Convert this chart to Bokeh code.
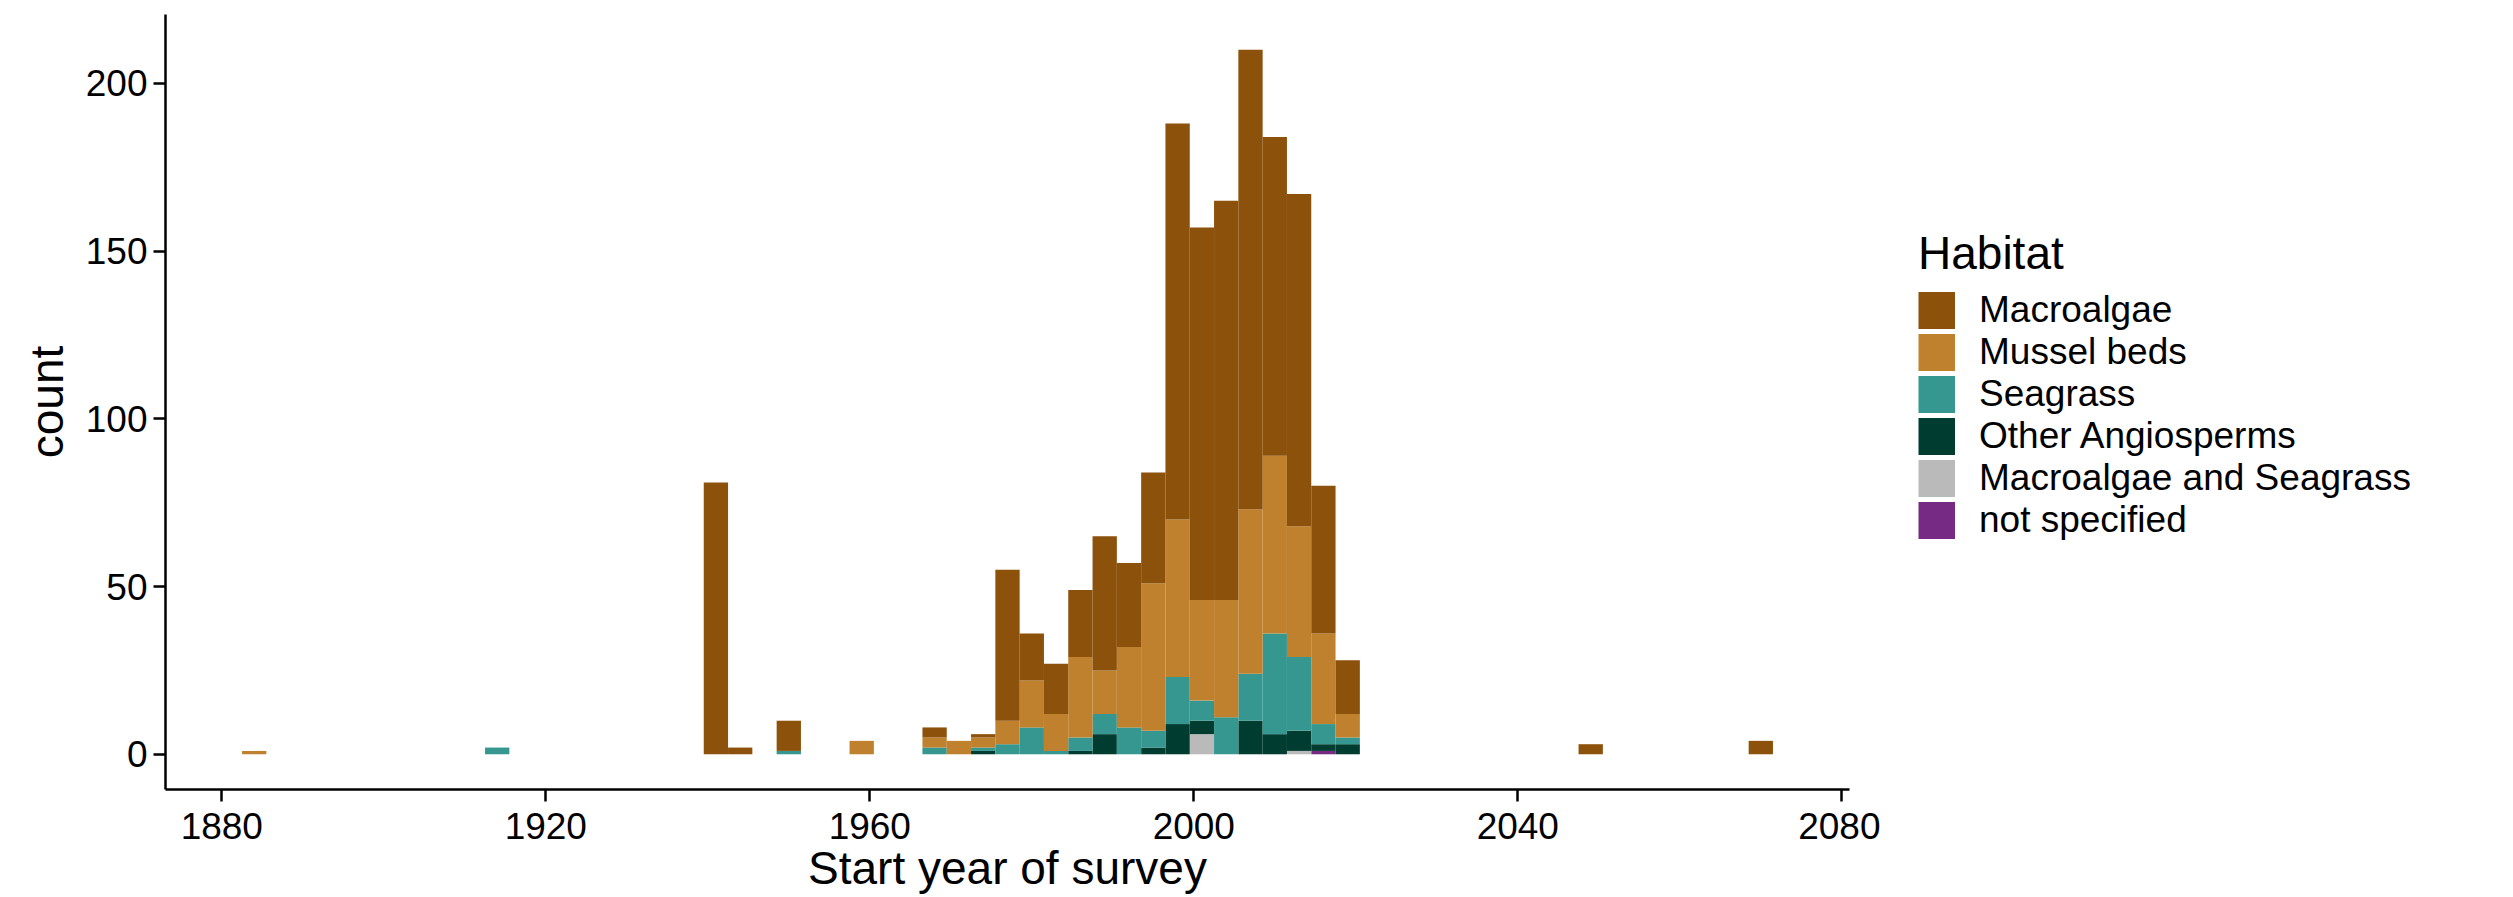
from bokeh.plotting import figure
from bokeh.models import Range1d, FixedTicker, Legend, LegendItem, ColumnDataSource
from bokeh.layouts import row
from bokeh.embed import file_html
from bokeh.resources import INLINE

# Histogram bins (centre year, bin width 3 years) and counts per habitat
bin_centers = [1884, 1914, 1941, 1944, 1950, 1959, 1968, 1971, 1974, 1977, 1980, 1983, 1986,
               1989, 1992, 1995, 1998, 2001, 2004, 2007, 2010, 2013, 2016, 2019, 2049, 2070]
bin_width = 3
macroalgae = [0, 0, 81, 2, 9, 0, 3, 0, 1, 45, 14, 15, 20, 40, 25, 33, 118, 111, 119, 137, 95, 99, 44, 16, 3, 4]
mussel_beds = [1, 0, 0, 0, 0, 4, 3, 4, 3, 7, 14, 11, 24, 13, 24, 44, 47, 30, 35, 49, 53, 39, 27, 7, 0, 0]
seagrass = [0, 2, 0, 0, 1, 0, 2, 0, 1, 3, 8, 1, 4, 6, 8, 5, 14, 6, 11, 14, 30, 22, 6, 2, 0, 0]
other_angiosperms = [0, 0, 0, 0, 0, 0, 0, 0, 1, 0, 0, 0, 1, 6, 0, 2, 9, 4, 0, 10, 6, 6, 2, 3, 0, 0]
macroalgae_and_seagrass = [0, 0, 0, 0, 0, 0, 0, 0, 0, 0, 0, 0, 0, 0, 0, 0, 0, 6, 0, 0, 0, 1, 0, 0, 0, 0]
not_specified = [0, 0, 0, 0, 0, 0, 0, 0, 0, 0, 0, 0, 0, 0, 0, 0, 0, 0, 0, 0, 0, 0, 1, 0, 0, 0]

habitats = ["Macroalgae", "Mussel beds", "Seagrass", "Other Angiosperms",
            "Macroalgae and Seagrass", "not specified"]
colors = ["#8C510A", "#BF812D", "#35978F", "#003C30", "#BABABA", "#762A83"]
x_ticks = [1880, 1920, 1960, 2000, 2040, 2080]
y_ticks = [0, 50, 100, 150, 200]

keys = ["m", "mb", "sg", "oa", "ms", "ns"]
source = ColumnDataSource(dict(x=bin_centers, m=macroalgae, mb=mussel_beds, sg=seagrass,
                               oa=other_angiosperms, ms=macroalgae_and_seagrass, ns=not_specified))

FONT = "Liberation Sans"
X0, X1 = 1873.05, 2080.95
Y0, Y1 = -10.5, 220.5
W_MAIN = 1880
W_TOTAL = 2513
H = 897
FRAME_BOTTOM = 789

p = figure(width=W_MAIN, height=H,
           x_range=Range1d(X0, X1), y_range=Range1d(Y0, Y1),
           output_backend="svg", toolbar_location=None,
           min_border_left=165, min_border_top=14, min_border_right=W_MAIN - 1849,
           min_border_bottom=H - FRAME_BOTTOM)

# stack from bottom (not specified) to top (Macroalgae)
stack_keys = list(reversed(keys))
stack_colors = list(reversed(colors))
p.vbar_stack(stack_keys, x="x", width=bin_width, source=source,
             fill_color=stack_colors, line_color=None)

p.xgrid.visible = False
p.ygrid.visible = False
p.outline_line_color = None
p.background_fill_color = "white"
p.border_fill_color = "white"

p.xaxis.ticker = FixedTicker(ticks=x_ticks)
p.yaxis.ticker = FixedTicker(ticks=y_ticks)
p.xaxis.axis_label = "Start year of survey"
p.yaxis.axis_label = "count"

for ax in (p.xaxis[0], p.yaxis[0]):
    ax.axis_line_width = 2.5
    ax.axis_line_color = "black"
    ax.major_tick_line_width = 2.5
    ax.major_tick_line_color = "black"
    ax.major_tick_out = 12
    ax.major_tick_in = 0
    ax.minor_tick_out = 0
    ax.minor_tick_in = 0
    ax.major_label_text_font = FONT
    ax.major_label_text_font_size = "37px"
    ax.major_label_text_color = "black"
    ax.axis_label_text_font = FONT
    ax.axis_label_text_font_size = "46px"
    ax.axis_label_text_font_style = "normal"
    ax.axis_label_text_color = "black"

p.xaxis.major_label_standoff = 11
p.xaxis.axis_label_standoff = 0
p.yaxis.major_label_standoff = 6
p.yaxis.axis_label_standoff = 10

# Legend panel: a separate figure to the right holding only the legend
pl = figure(width=W_TOTAL - W_MAIN, height=H, x_range=Range1d(0, 1), y_range=Range1d(0, 1),
            output_backend="svg", toolbar_location=None,
            x_axis_location=None, y_axis_location=None,
            min_border_left=0, min_border_right=0, min_border_top=14,
            min_border_bottom=H - FRAME_BOTTOM)
pl.xgrid.visible = False
pl.ygrid.visible = False
pl.outline_line_color = None
pl.background_fill_color = "white"
pl.border_fill_color = "white"

KEY_W = 37
KEY_H = 40
items = []
for h, c in zip(habitats, colors):
    # legend-only renderer (no visible data); thick butt line draws a square key
    r = pl.line(x=[float("nan")], y=[float("nan")], line_width=KEY_H, line_color=c, line_cap="butt")
    items.append(LegendItem(label=h, renderers=[r]))

legend = Legend(items=items, title="Habitat", location=(1918 - W_MAIN, FRAME_BOTTOM - 541))
legend.title_text_font = FONT
legend.title_text_font_size = "46px"
legend.title_text_font_style = "normal"
legend.title_text_color = "black"
legend.title_standoff = 9
legend.label_text_font = FONT
legend.label_text_font_size = "37px"
legend.label_text_color = "black"
legend.glyph_width = KEY_W
legend.glyph_height = KEY_W
legend.spacing = 0
legend.padding = 0
legend.margin = 0
legend.label_standoff = 24
legend.border_line_color = None
legend.background_fill_alpha = 0
pl.add_layout(legend)

layout = row(p, pl)
open("out.html", "w").write(file_html(layout, INLINE))
